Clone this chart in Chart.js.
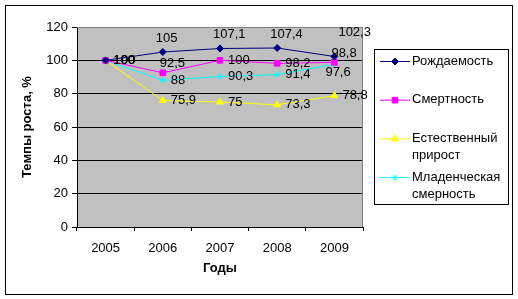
<!DOCTYPE html>
<html>
<head>
<meta charset="utf-8">
<script src="https://cdn.jsdelivr.net/npm/chart.js@4/dist/chart.umd.min.js"></script>
<style>
    html, body { margin: 0; padding: 0; background: #fff; }
    canvas { display: block; }
</style>
</head>
<body>
<canvas id="chart" width="518" height="299"></canvas>
<script>
// =====================
// DATA
// =====================

const years = ['2005', '2006', '2007', '2008', '2009'];
const birthRate = [100, 105, 107.1, 107.4, 102.3];
const deathRate = [100, 92.5, 100, 98.2, 98.8];
const naturalGrowth = [100, 75.9, 75, 73.3, 78.8];
const infantMortality = [100, 88, 90.3, 91.4, 97.6];
const seriesNames = ['Рождаемость', 'Смертность', 'Естественный прирост', 'Младенческая смерность'];
const yMin = 0, yMax = 120, yStep = 20;

// where each value label sits relative to its point
const labelPlacement = [
    ['r', 't', 't', 't', 'tt'],
    ['r', 'tl', 'r', 'r', 'tl'],
    ['r', 'r', 'r', 'r', 'r'],
    ['r', 'r', 'r', 'r', 'b'],
];
const labelOffsets = { r: [8, 0], t: [-7, -14], tt: [4, -24], tl: [-3, -9], b: [-9, 8] };

const FONT = '"Liberation Sans", Arial, sans-serif';
Chart.defaults.font.family = FONT;
Chart.defaults.color = '#000';

function makeSeries(label, data, color, style, radius) {
    return {
        label: label,
        data: data,
        borderColor: color,
        backgroundColor: color,
        borderWidth: 1,
        pointStyle: style,
        pointRadius: radius,
        pointBorderWidth: 1,
        pointBackgroundColor: color,
        pointBorderColor: color,
        tension: 0,
        fill: false,
    };
}

// =====================
// PLUGINS
// =====================

const frame = {
    id: 'frame',
    beforeDraw(chart) {
        const { ctx, chartArea: a } = chart;
        ctx.save();
        ctx.fillStyle = '#fff';
        ctx.fillRect(0, 0, chart.width, chart.height);
        ctx.fillStyle = '#c0c0c0';
        ctx.fillRect(a.left, a.top, a.right - a.left, a.bottom - a.top);
        ctx.restore();
    },
    beforeDatasetsDraw(chart) {
        const { ctx, chartArea: a } = chart;
        ctx.save();
        ctx.strokeStyle = '#808080';
        ctx.lineWidth = 1;
        ctx.beginPath();
        ctx.moveTo(a.left, a.top + 0.5);
        ctx.lineTo(a.right - 0.5, a.top + 0.5);
        ctx.lineTo(a.right - 0.5, a.bottom);
        ctx.stroke();
        ctx.restore();
    },
    afterDraw(chart) {
        const ctx = chart.ctx;
        ctx.save();
        ctx.strokeStyle = '#000';
        ctx.lineWidth = 1;
        ctx.strokeRect(5.5, 5.5, 507, 289);
        ctx.restore();
    },
};

const valueLabels = {
    id: 'valueLabels',
    afterDatasetsDraw(chart) {
        const ctx = chart.ctx;
        ctx.save();
        ctx.font = '13px ' + FONT;
        ctx.fillStyle = '#000';
        ctx.textAlign = 'left';
        ctx.textBaseline = 'middle';
        chart.data.datasets.forEach((ds, di) => {
            const meta = chart.getDatasetMeta(di);
            meta.data.forEach((pt, i) => {
                const off = labelOffsets[labelPlacement[di][i]];
                const txt = String(ds.data[i]).replace('.', ',');
                ctx.fillText(txt, pt.x + off[0], pt.y + off[1]);
            });
        });
        ctx.restore();
    },
};

const boxLegend = {
    id: 'boxLegend',
    afterDraw(chart) {
        const ctx = chart.ctx;
        const box = { x: 374.5, y: 49.5, w: 134, h: 155 };
        ctx.save();
        ctx.fillStyle = '#fff';
        ctx.fillRect(box.x, box.y, box.w, box.h);
        ctx.strokeStyle = '#000';
        ctx.lineWidth = 1;
        ctx.strokeRect(box.x, box.y, box.w, box.h);

        ctx.font = '13px ' + FONT;
        ctx.textAlign = 'left';
        ctx.textBaseline = 'middle';
        let y = 61;
        chart.data.datasets.forEach((ds) => {
            ctx.strokeStyle = ds.borderColor;
            ctx.beginPath();
            ctx.moveTo(380, y + 0.5);
            ctx.lineTo(410, y + 0.5);
            ctx.stroke();
            ctx.fillStyle = ds.borderColor;
            if (Chart.helpers && Chart.helpers.drawPoint) {
                Chart.helpers.drawPoint(ctx, {
                    pointStyle: ds.pointStyle,
                    radius: ds.pointRadius,
                    rotation: 0,
                    borderWidth: 1,
                }, 395, y + 0.5);
            }
            ctx.fillStyle = '#000';
            const words = ds.label.split(' ');
            words.forEach((w, k) => ctx.fillText(w, 412, y + k * 17));
            y += 38.7;
        });
        ctx.restore();
    },
};

// =====================
// CHART
// =====================

new Chart(document.getElementById('chart'), {
    type: 'line',
    data: {
        labels: years,
        datasets: [
            makeSeries(seriesNames[0], birthRate, '#000080', 'rectRot', 3.5),
            makeSeries(seriesNames[1], deathRate, '#ff00ff', 'rect', 4),
            makeSeries(seriesNames[2], naturalGrowth, '#ffff00', 'triangle', 4),
            makeSeries(seriesNames[3], infantMortality, '#00ffff', 'star', 3),
        ],
    },
    options: {
        responsive: false,
        animation: false,
        devicePixelRatio: 1,
        layout: { padding: { left: 6, top: 27, right: 155, bottom: 6 } },
        plugins: {
            legend: { display: false },
            tooltip: { enabled: false },
        },
        scales: {
            x: {
                offset: true,
                grid: {
                    display: true,
                    drawOnChartArea: false,
                    offset: true,
                    tickLength: 4,
                    color: '#000',
                },
                border: { color: '#000' },
                ticks: { padding: 10, font: { size: 13 }, color: '#000' },
                title: {
                    display: true,
                    text: 'Годы',
                    font: { size: 13, weight: 'bold' },
                    color: '#000',
                    padding: { top: 0, bottom: 17 },
                },
                afterFit(scale) { scale.height = 66; },
            },
            y: {
                min: yMin,
                max: yMax,
                grid: {
                    color: (c) => (c.tick && c.tick.value === yMax ? '#808080' : '#000'),
                    tickColor: '#000',
                    tickLength: 5,
                },
                border: { color: '#000' },
                ticks: { stepSize: yStep, padding: 4, font: { size: 13 }, color: '#000' },
                title: {
                    display: true,
                    text: 'Темпы роста, %',
                    font: { size: 13, weight: 'bold' },
                    color: '#000',
                    padding: { top: 14, bottom: 0 },
                },
                afterFit(scale) { scale.width = 71; },
            },
        },
    },
    plugins: [frame, valueLabels, boxLegend],
});
</script>
</body>
</html>
